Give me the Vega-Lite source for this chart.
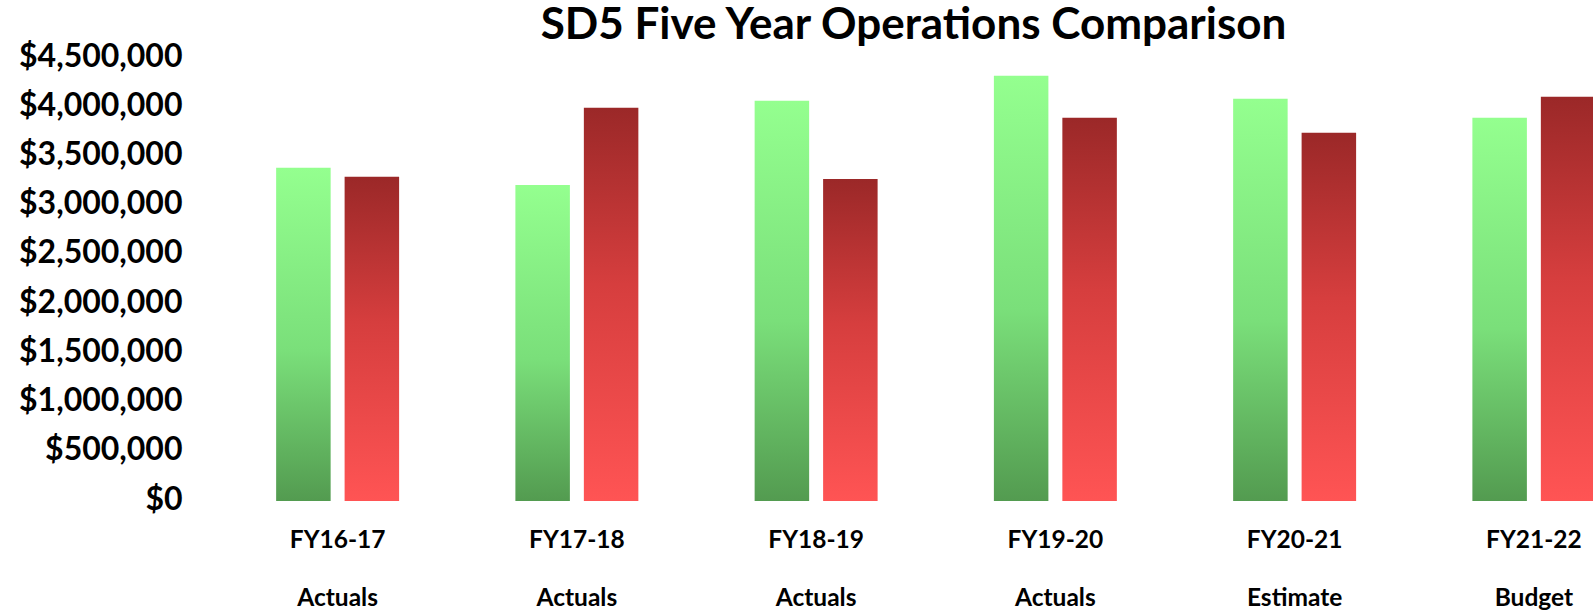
{
  "$schema": "https://vega.github.io/schema/vega-lite/v6.json",
  "autosize": {"type": "none"},
  "width": 1375,
  "height": 443,
  "padding": {"left": 218, "top": 58, "right": 0, "bottom": 115},
  "background": "white",
  "title": {
    "text": "SD5 Five Year Operations Comparison",
    "font": "Lato",
    "fontWeight": "bold",
    "fontSize": 44,
    "color": "#000000",
    "anchor": "middle",
    "frame": "group",
    "dx": 8,
    "dy": 12,
    "offset": 4
  },
  "data": {
    "values": [
      {"period": "FY16-17|Actuals", "series": "Revenue", "value": 3384000},
      {"period": "FY16-17|Actuals", "series": "Expenses", "value": 3293000},
      {"period": "FY17-18|Actuals", "series": "Revenue", "value": 3211000},
      {"period": "FY17-18|Actuals", "series": "Expenses", "value": 3994000},
      {"period": "FY18-19|Actuals", "series": "Revenue", "value": 4065000},
      {"period": "FY18-19|Actuals", "series": "Expenses", "value": 3272000},
      {"period": "FY19-20|Actuals", "series": "Revenue", "value": 4319000},
      {"period": "FY19-20|Actuals", "series": "Expenses", "value": 3892000},
      {"period": "FY20-21|Estimate", "series": "Revenue", "value": 4085000},
      {"period": "FY20-21|Estimate", "series": "Expenses", "value": 3740000},
      {"period": "FY21-22|Budget", "series": "Revenue", "value": 3892000},
      {"period": "FY21-22|Budget", "series": "Expenses", "value": 4106000}
    ]
  },
  "encoding": {
    "x": {
      "field": "period",
      "type": "nominal",
      "sort": null,
      "scale": {"range": [0, 1435.5], "paddingInner": 0.486, "paddingOuter": 0.243},
      "axis": {
        "title": null,
        "labelAngle": 0,
        "labelExpr": "split(datum.label, '|')",
        "labelFont": "Lato",
        "labelFontWeight": "bold",
        "labelFontSize": 24.5,
        "labelColor": "#000000",
        "labelLineHeight": 58,
        "labelPadding": 39,
        "labelBaseline": "middle",
        "ticks": false,
        "domain": false,
        "grid": false,
        "labelOverlap": false
      }
    },
    "xOffset": {
      "field": "series",
      "type": "nominal",
      "scale": {"domain": ["Revenue", "Expenses"], "paddingInner": 0.204, "paddingOuter": 0}
    },
    "y": {
      "field": "value",
      "type": "quantitative",
      "scale": {"domain": [0, 4500000], "nice": false},
      "axis": {
        "title": null,
        "values": [0, 500000, 1000000, 1500000, 2000000, 2500000, 3000000, 3500000, 4000000, 4500000],
        "format": "$,.0f",
        "labelFont": "Lato",
        "labelFontWeight": "bold",
        "labelFontSize": 32,
        "labelColor": "#000000",
        "labelPadding": 36,
        "labelOffset": -2,
        "ticks": false,
        "domain": false,
        "grid": false
      }
    }
  },
  "layer": [
    {
      "transform": [{"filter": "datum.series === 'Revenue'"}],
      "mark": {
        "type": "bar",
        "color": {
          "gradient": "linear",
          "x1": 0, "y1": 0, "x2": 0, "y2": 1,
          "stops": [
            {"offset": 0, "color": "#94FF8F"},
            {"offset": 0.55, "color": "#7ADF7A"},
            {"offset": 1, "color": "#539B50"}
          ]
        }
      }
    },
    {
      "transform": [{"filter": "datum.series === 'Expenses'"}],
      "mark": {
        "type": "bar",
        "color": {
          "gradient": "linear",
          "x1": 0, "y1": 0, "x2": 0, "y2": 1,
          "stops": [
            {"offset": 0, "color": "#9B2828"},
            {"offset": 0.45, "color": "#D63E3E"},
            {"offset": 1, "color": "#FF5454"}
          ]
        }
      }
    }
  ],
  "config": {"view": {"stroke": null}}
}
